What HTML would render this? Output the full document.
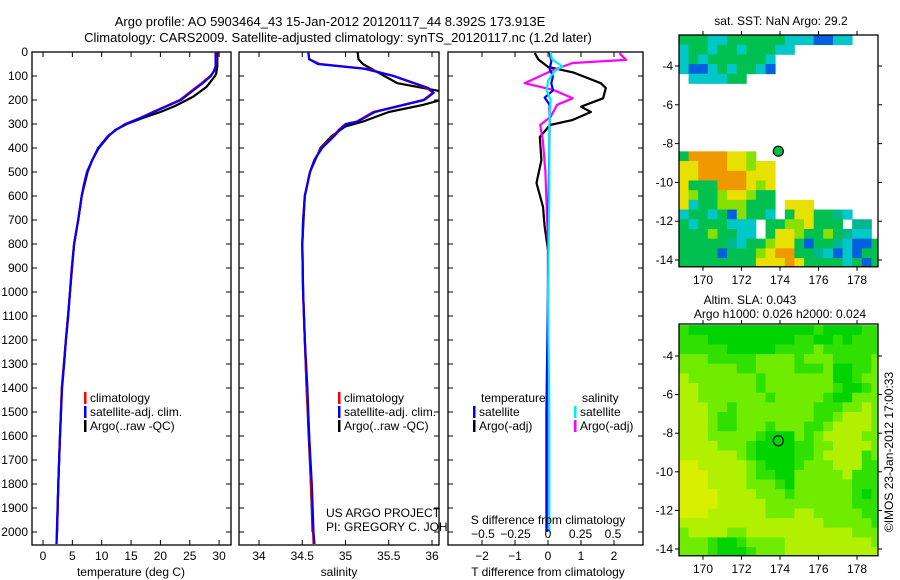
<!DOCTYPE html>
<html><head><meta charset="utf-8">
<style>
html,body{margin:0;padding:0;background:#fff;}
svg{display:block;font-family:"Liberation Sans",sans-serif;font-size:12px;}
</style></head>
<body>
<svg id="fig" width="900" height="580" viewBox="0 0 900 580" xmlns="http://www.w3.org/2000/svg">
<text x="330" y="26" text-anchor="middle" font-size="13">Argo profile: AO 5903464_43 15-Jan-2012 20120117_44 8.392S 173.913E</text>
<text x="338" y="42" text-anchor="middle" font-size="13">Climatology: CARS2009. Satellite-adjusted climatology: synTS_20120117.nc (1.2d later)</text>
<text x="781" y="25" text-anchor="middle">sat. SST: NaN Argo: 29.2</text>
<text x="750" y="304" text-anchor="middle">Altim. SLA: 0.043</text>
<text x="780" y="318" text-anchor="middle">Argo h1000: 0.026 h2000: 0.024</text>
<text transform="translate(893,452) rotate(-90)" text-anchor="middle">©IMOS 23-Jan-2012 17:00:33</text>
<g id="plots"></g>
</svg>
<script>
// ---- profile data ----
const tClimDepth = [0,60,80,100,130,158,200,225,250,275,300,325,350,400,450,500,550,600,700,800,900,1000,1100,1200,1300,1400,1600,1800,2000,2050];
const tClimVal   = [29.5,29.4,29.2,28.5,27,25.5,23.3,21,18.7,16.5,14,12.4,11.1,9.4,8.4,7.5,7.0,6.6,6.0,5.3,4.9,4.6,4.3,3.9,3.6,3.2,2.9,2.6,2.4,2.3];
const tSatVal    = [29.4,29.4,29.1,28.6,27.2,25.7,23.5,21.2,18.9,16.6,14.1,12.4,11.1,9.4,8.4,7.5,7.0,6.6,6.0,5.3,4.9,4.6,4.3,3.9,3.6,3.25,2.9,2.6,2.35,2.3];
const tArgoDepth = [0,60,90,100,144,186,200,225,250,275,300,325,350,400,450,500,600,700,800,1000,1200,1400,1600,1800,2000];
const tArgoVal   = [29.7,29.7,29.5,29.3,27.9,25.6,24.5,22.5,20,17,14.3,12.3,11.2,9.5,8.4,7.6,6.6,6.0,5.3,4.6,3.9,3.2,2.9,2.6,2.4];
const sClimDepth = [0,30,50,70,100,150,170,200,250,290,300,325,350,400,450,500,600,700,800,1000,1200,1400,1600,1800,2000,2050];
const sClimVal   = [34.57,34.58,34.7,35.25,35.55,35.94,36.01,35.9,35.32,35.13,35.0,34.92,34.86,34.72,34.64,34.59,34.53,34.51,34.5,34.51,34.53,34.55,34.58,34.6,34.625,34.63];
const sSatVal    = [34.57,34.58,34.68,35.22,35.56,35.96,36.02,35.91,35.34,35.14,35.01,34.93,34.87,34.73,34.64,34.59,34.53,34.51,34.5,34.51,34.53,34.56,34.58,34.61,34.63,34.64];
const sArgoDepth = [0,30,50,70,100,130,160,180,200,220,250,290,310,350,400,500,600,800,1000,1400,1800,2000];
const sArgoVal   = [35.14,35.15,35.2,35.3,35.45,35.6,36.05,36.3,36.1,35.9,35.5,35.2,35.0,34.84,34.71,34.59,34.53,34.5,34.51,34.55,34.6,34.62];
const dTArgoDepth = [4,30,62,85,130,150,193,228,250,283,304,354,450,546,645,729,825,1000,1500,2000];
const dTArgoVal   = [-0.4,-0.3,0.0,0.76,1.6,1.75,1.67,1.0,1.3,0.75,0.06,-0.25,-0.2,-0.35,-0.15,-0.1,0,0,0,0];
const dTSatDepth = [0,40,70,100,130,160,190,220,300,600,1000,1500,2000];
const dTSatVal   = [0.05,0.1,0.05,0.15,0.1,0.15,-0.1,0.05,0.05,0.02,0,-0.05,-0.05];
const dSArgoDepth = [5,33,46,75,130,158,193,220,270,304,367,500,800,1200,2000];
const dSArgoVal   = [0.55,0.6,0.19,0.04,-0.18,0.04,0.19,0.07,0.02,-0.06,-0.04,-0.02,0,0,0];
const dSSatDepth = [0,30,60,80,120,160,200,300,600,1000,1500,2000];
const dSSatVal   = [0.02,0.03,0.11,0.05,0.0,-0.01,0.02,0.01,0.01,0.0,0.01,0.01];
const depthTicks = [0,100,200,300,400,500,600,700,800,900,1000,1100,1200,1300,1400,1500,1600,1700,1800,1900,2000];
const tTicks = [0,5,10,15,20,25,30];
const sTicks = [34,34.5,35,35.5,36];
const dTTicks = [-2,-1,0,1,2];
const dSTicks = [-0.5,-0.25,0,0.25,0.5];
const dSTickLabels = ["−0.5","−0.25","0","0.25","0.5"];
// ---- map data (0.5 deg cells, lon from 168.75, lat from -2.4 going south) ----
const sstGrid = [
"gggccggggggcccbbcc...t",
"cggcggcgggcc.........",
"cgcggggggc...........",
"cbbcgcggcb...........",
".ccccgg..............",
".....................",".....................",".....................",".....................",".....................",".....................",".....................",
"gooooyyl.............",
"yyoooyylyy...........",
"yyoooooyyy...........",
"ygggoooyly...........",
"ylgglyylgg...........",
"ycgglllggg.yyy.......",
"cggcgblggc.gyyggtc...",
"gcgggccc.ggllyggg.tt.",
"ggglggcc.gyylgglgtcc.",
"gggggtcgglyygbggtcbbg",
"ggggbggglyooggtcbcbgg",
"ggggggggyyyoyggggcgbg"];
const slaGrid = [
"gGGGGGGGGGGGGGgGGGGgg","gggGGGGGGGGGggGGgGggg","gggggGGGGGgggglgggggg","lllgggggllllglllggggl",
"llllllggllllggglGGggl","ylllllllglllllllGGgll","yyllllllglllllllgGGgl","yylllllllglllllgGGlll",
"yyyllgllllllllgggllyl","yyylggllllllllgglyyyl","yyylgglllglllgglyyyyl","yyylllllgGGGlglyyyyll",
"yyyylllgGGGGggllyyyyl","yyyyyylgGGGGgglyyyygl","YYyyyyylgGGGglllyyygg","YYYyyyylggGGlllllyggg",
"YYYyyyylllgGllllllggg","YYYYyyyylllgllllllgGg","YYYYyyyyylllllllllggg","YYYyyyyyylllyylllllgg",
"yyyyyyyyyyyyyyylllllg","lyyyyllyyyyyyyyyyylll","lllgGGgllllyyyyyyyyyl","lllgGGGglllyyyyyyyyyy"];
const lonTicks = [170,172,174,176,178];
const latTicks = [-4,-6,-8,-10,-12,-14];
const argoLon = 173.913, argoLat = -8.392;

const NS = "http://www.w3.org/2000/svg";
const root = document.getElementById('plots');
function mk(tag, attrs, parent){ const e=document.createElementNS(NS,tag); for(const k in attrs) e.setAttribute(k,attrs[k]); (parent||root).appendChild(e); return e; }
function txt(s, x, y, anchor, parent){ const t=mk('text',{x:x,y:y,'text-anchor':anchor||'middle'},parent); t.textContent=s; return t; }

const yTop=52, yBot=545;
const yD = d => 52 + d*0.24;

function panel(name, x0, x1, xs, ticks, labels){
  const g = mk('g',{});
  
  
  const r = mk('rect',{x:x0,y:yTop,width:x1-x0,height:yBot-yTop,fill:'#fff',stroke:'#000','stroke-width':1.3},g);
  
  
  depthTicks.forEach(d=>{
    mk('line',{x1:x0,x2:x0+5,y1:yD(d),y2:yD(d),stroke:'#000'},g);
    mk('line',{x1:x1-5,x2:x1,y1:yD(d),y2:yD(d),stroke:'#000'},g);
  });
  ticks.forEach((v,i)=>{
    const x=xs(v);
    mk('line',{x1:x,x2:x,y1:yTop,y2:yTop+5,stroke:'#000'},g);
    mk('line',{x1:x,x2:x,y1:yBot-5,y2:yBot,stroke:'#000'},g);
    const t=txt(labels?labels[i]:String(v), x, 560, 'middle', g);
    
    
  });
  return g;
}
function line(g, name, depths, vals, xs, color, x0, x1){
  let d='';
  depths.forEach((dp,i)=>{ d += (i?'L':'M') + xs(vals[i]).toFixed(1) + ',' + yD(dp).toFixed(1); });
  const id='clip'+Math.round(x0);
  if(!document.getElementById(id)){ const cp=mk('clipPath',{id:id}); mk('rect',{x:x0,y:yTop,width:x1-x0,height:yBot-yTop},cp); }
  const p=mk('path',{d:d,fill:'none',stroke:color,'stroke-width':2.2,'stroke-linejoin':'round','clip-path':'url(#'+id+')'},g);
  
  
}
function legend(g, x, y, items){
  items.forEach((it,i)=>{
    mk('rect',{x:x,y:y+i*14-10,width:2.5,height:12,fill:it[1]},g);
    const t=txt(it[0], x+6, y+i*14, 'start', g);
    
    
  });
}

// Temperature panel
const xT = v => 43 + v*5.87;
const gT = panel('temperature-panel', 32, 231, xT, tTicks);
depthTicks.forEach(d=>{ const t=txt(String(d), 28, yD(d)+4, 'end', gT);   });
line(gT,'temp-argo-line',tArgoDepth,tArgoVal,xT,'#000',32,231);
line(gT,'temp-climatology-line',tClimDepth,tClimVal,xT,'#f00',32,231);
line(gT,'temp-satellite-line',tClimDepth,tSatVal,xT,'#00f',32,231);
legend(gT, 84, 402, [['climatology','#f00'],['satellite-adj. clim.','#00f'],['Argo(..raw -QC)','#000']]);
txt('temperature (deg C)', 131, 576, 'middle', gT);

// Salinity panel
const xS = v => 259 + (v-34)*86.5;
const gS = panel('salinity-panel', 239, 439, xS, sTicks);
line(gS,'sal-argo-line',sArgoDepth,sArgoVal,xS,'#000',239,439);
line(gS,'sal-climatology-line',sClimDepth,sClimVal,xS,'#f00',239,439);
line(gS,'sal-satellite-line',sClimDepth,sSatVal,xS,'#00f',239,439);
legend(gS, 338, 402, [['climatology','#f00'],['satellite-adj. clim.','#00f'],['Argo(..raw -QC)','#000']]);
txt('salinity', 339, 576, 'middle', gS);
txt('US ARGO PROJECT', 326, 517, 'start');
txt('PI: GREGORY C. JOHNSON', 326, 531, 'start');

// Difference panel
const xdT = v => 548 + v*33;
const xdS = v => 548 + v*130;
const gD = panel('difference-panel', 448, 643, xdT, dTTicks, ["−2","−1","0","1","2"]);
line(gD,'temp-diff-argo-line',dTArgoDepth,dTArgoVal,xdT,'#000',448,643);
line(gD,'sal-diff-argo-line',dSArgoDepth,dSArgoVal,xdS,'#f0f',448,643);
line(gD,'temp-diff-satellite-line',dTSatDepth,dTSatVal,xdT,'#00f',448,643);
line(gD,'sal-diff-satellite-line',dSSatDepth,dSSatVal,xdS,'#0ee',448,643);
txt('temperature', 481, 402, 'start', gD);
txt('salinity', 582, 402, 'start', gD);
legend(gD, 473, 416, [['satellite','#00f'],['Argo(-adj)','#000']]);
legend(gD, 574, 416, [['satellite','#0ee'],['Argo(-adj)','#f0f']]);
dSTicks.forEach((v,i)=>{ const t=txt(dSTickLabels[i], xdS(v), 538, 'middle', gD);   });
txt('S difference from climatology', 548, 524, 'middle', gD);
txt('T difference from climatology', 548, 576, 'middle', gD);

// Maps
const sstCol = {g:'#00c050',c:'#00c8c8',t:'#00b890',b:'#0060e0',o:'#f09800',y:'#e8e000',l:'#88e000'};
const slaCol = {G:'#00d400',g:'#30e000',l:'#70ec00',y:'#b0f000',Y:'#d8f000'};
function map(name, grid, cols, bx0, bx1, by0, lat4y, lat14y){
  const g = mk('g',{});
  
  
  const lonX = lon => 703 + (lon-170)*19.25;
  const latY = lat => lat4y + (-4-lat)*(lat14y-lat4y)/10;
  const by1 = latY(-14.35);
  const cid = 'clip-'+name;
  const cp=mk('clipPath',{id:cid}); mk('rect',{x:bx0,y:by0,width:bx1-bx0,height:by1-by0},cp);
  const cg = mk('g',{'clip-path':'url(#'+cid+')'},g);
  grid.forEach((row,j)=>{
    for(let i=0;i<row.length;i++){
      const c=row[i]; if(!cols[c]) continue;
      const xa=lonX(168.75+i*0.5), xb=lonX(169.25+i*0.5);
      const ya=latY(-2.4-j*0.5), yb=latY(-2.9-j*0.5);
      const r=mk('rect',{x:xa,y:ya,width:xb-xa+0.4,height:yb-ya+0.4,fill:cols[c]},cg);
      
      
    }
  });
  mk('rect',{x:bx0,y:by0,width:bx1-bx0,height:by1-by0,fill:'none',stroke:'#000','stroke-width':1.3},g);
  lonTicks.forEach(v=>{ const x=lonX(v);
    mk('line',{x1:x,x2:x,y1:by0-4,y2:by0,stroke:'#000'},g);
    mk('line',{x1:x,x2:x,y1:by1,y2:by1+4,stroke:'#000'},g);
    txt(String(v), x, by1+17, 'middle', g); });
  latTicks.forEach(v=>{ const y=latY(v);
    mk('line',{x1:bx0-4,x2:bx0,y1:y,y2:y,stroke:'#000'},g);
    mk('line',{x1:bx1,x2:bx1+4,y1:y,y2:y,stroke:'#000'},g);
    txt(String(v), bx0-6, y+4, 'end', g); });
  const ax=lonX(argoLon), ay=latY(argoLat);
  const c=mk('circle',{cx:ax,cy:ay,r:5,fill:name==='sst-map'?'#00c040':'none',stroke:'#000','stroke-width':1.2},g);
  
  
}
map('sst-map', sstGrid, sstCol, 679, 878, 35, 66, 260);
map('sla-map', slaGrid, slaCol, 679, 878, 324, 356, 549);
</script>
</body></html>
